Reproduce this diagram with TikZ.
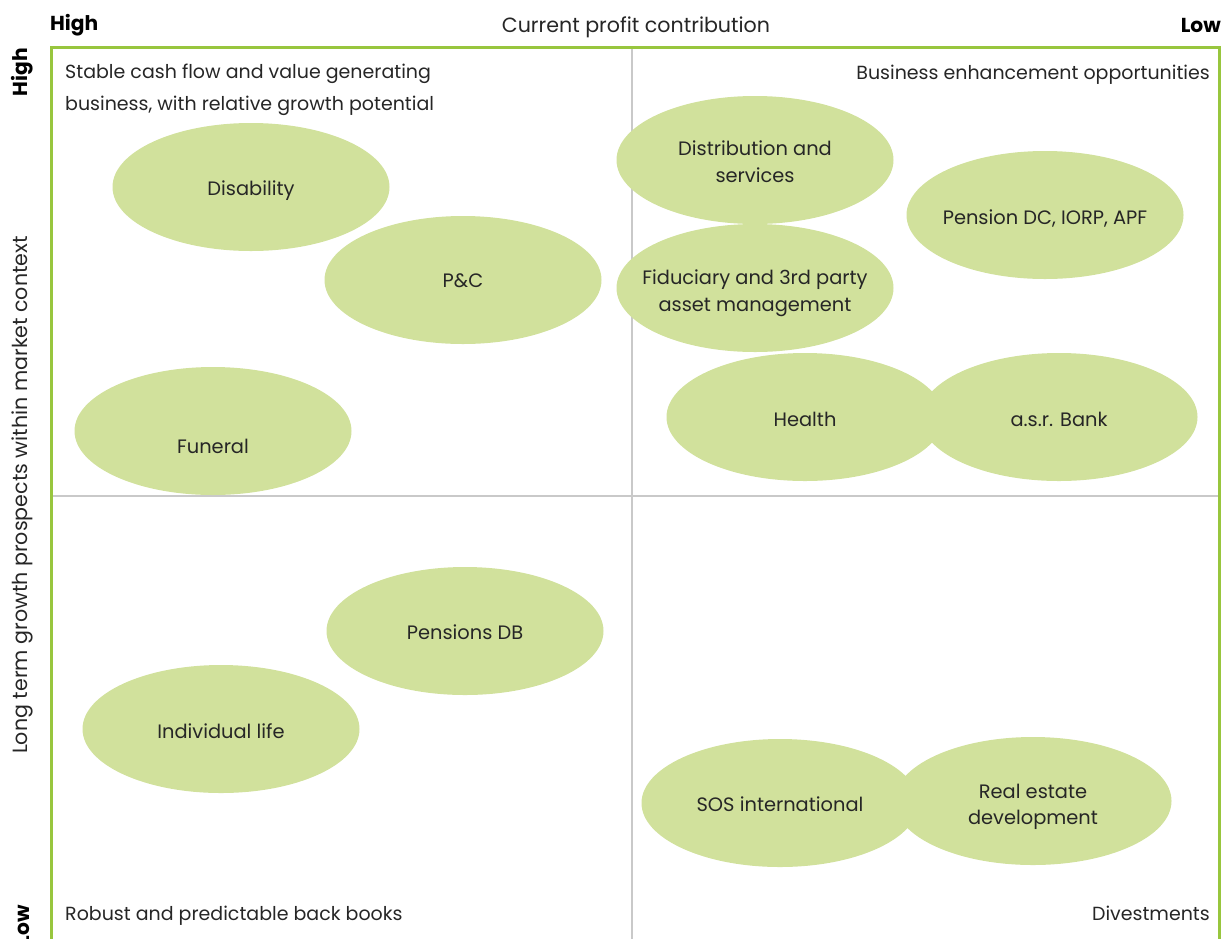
\documentclass[tikz,border=0pt]{standalone}
\usepackage{fontspec}
\setmainfont{Poppins}
\usetikzlibrary{shapes.geometric}
\begin{document}
\begin{tikzpicture}[x=1pt,y=-1pt,
  txt/.style={font=\fontsize{19}{32}\selectfont, text=black!85, inner sep=0pt},
  lbl/.style={font=\fontsize{19.4}{26.5}\selectfont, text=black!85, inner sep=0pt, align=center},
  axis/.style={font=\fontsize{20.6}{24}\selectfont, text=black!85, inner sep=0pt},
  hdr/.style={font=\fontsize{20.2}{24}\selectfont\bfseries, text=black, inner sep=0pt},
  blob/.style={ellipse, fill=leaf, minimum width=277pt, minimum height=128pt, inner sep=0pt},
  frameline/.style={draw=frame, line width=3pt},
  gridline/.style={draw=grid, line width=2.5pt}]
\definecolor{leaf}{HTML}{D1E19C}
\definecolor{frame}{HTML}{98C63E}
\definecolor{grid}{HTML}{C9C9C9}
\useasboundingbox (0,0) rectangle (1223,938);
\clip (0,0) rectangle (1223,938);

% quadrant dividers
\coordinate (vt) at (632,48);
\coordinate (vb) at (632,945);
\coordinate (hl) at (52,496);
\coordinate (hr) at (1219,496);
\draw[gridline] (vt) -- (vb);
\draw[gridline] (hl) -- (hr);

% frame open at the bottom
\coordinate (fbl) at (51.5,945);
\coordinate (ftl) at (51.5,47.5);
\coordinate (ftr) at (1219.5,47.5);
\coordinate (fbr) at (1219.5,945);
\draw[frameline] (fbl) -- (ftl) -- (ftr) -- (fbr);

% axis titles
\node[hdr, anchor=west] (xhigh) at (50,25) {High};
\node[axis, anchor=center] (xtitle) at (636,27) {Current profit contribution};
\node[hdr, anchor=east] (xlow) at (1221,25) {Low};
\node[hdr, rotate=90] (yhigh) at (22,72) {High};
\node[axis, rotate=90] (ytitle) at (22,495) {Long term growth prospects within market context};
\node[hdr, rotate=90] (ylow) at (22,925) {Low};

% quadrant captions
\node[txt, anchor=north west, align=left] (q1) at (65,63.5) {Stable cash flow and value generating\\business, with relative growth potential};
\node[txt, anchor=east] (q2) at (1210,75) {Business enhancement opportunities};
\node[txt, anchor=west] (q3) at (65,916) {Robust and predictable back books};
\node[txt, anchor=east] (q4) at (1210,913) {Divestments};

% business lines
\node[blob] (dis) at (251,187) {};
\node[lbl] (disl) at (251,191) {Disability};
\node[blob] (pc) at (463,280) {};
\node[lbl] (pcl) at (463,281) {P\&C};
\node[blob] (fun) at (213,431) {};
\node[lbl] (funl) at (213,446) {Funeral};
\node[blob] (dist) at (755,160) {};
\node[lbl] (distl) at (755,161.5) {Distribution and\\services};
\node[blob] (pdc) at (1045,215) {};
\node[lbl] (pdcl) at (1045,218) {Pension DC, IORP, APF};
\node[blob] (fid) at (755,288) {};
\node[lbl] (fidl) at (755,293) {Fiduciary and 3rd party\\asset management};
\node[blob] (hea) at (805,417) {};
\node[lbl] (heal) at (805,419) {Health};
\node[blob] (bank) at (1059,417) {};
\node[lbl] (bankl) at (1059,419) {a.s.r. Bank};
\node[blob] (pdb) at (465,631) {};
\node[lbl] (pdbl) at (465,632) {Pensions DB};
\node[blob] (ind) at (221,729) {};
\node[lbl] (indl) at (221,731) {Individual life};
\node[blob] (sos) at (780,803) {};
\node[lbl] (sosl) at (780,804) {SOS international};
\node[blob] (re) at (1033,801) {};
\node[lbl] (rel) at (1033,807) {Real estate\\development};
\end{tikzpicture}
\end{document}
